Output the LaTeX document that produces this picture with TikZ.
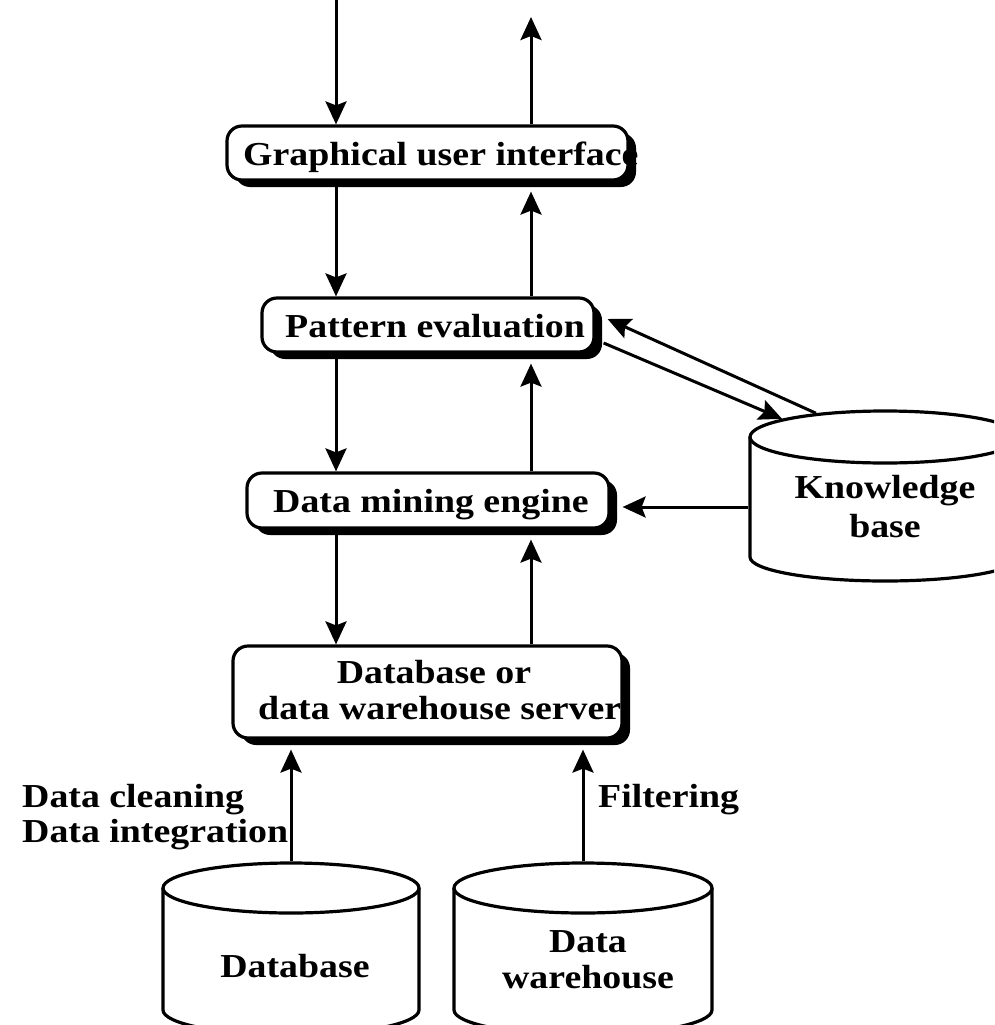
\documentclass[tikz,border=0pt]{standalone}
\usepackage{fontspec}
\setmainfont{Liberation Serif}[FakeStretch=1.13]
\usetikzlibrary{arrows.meta,shapes.geometric,shadows,calc}
\begin{document}
\begin{tikzpicture}[x=1pt,y=1pt,
  box/.style={draw, line width=3.2pt, rounded corners=15pt, fill=white, inner sep=0pt,
     drop shadow={shadow xshift=8pt, shadow yshift=-7pt, fill=black, opacity=1}},
  lbl/.style={inner sep=0pt, font=\fontsize{33.5}{36}\selectfont\bfseries},
  arr/.style={line width=3pt, -{Stealth[length=23pt,width=21pt,inset=4pt]}},
  cyl/.style={draw, line width=3.2pt, fill=white},
  cyltop/.style={ellipse, draw, line width=3.2pt, fill=white, inner sep=0pt},
]
\clip (0,0) rectangle (994,-1025);
\fill[white] (0,0) rectangle (994,-1025);

% boxes
\node[box, minimum width=401, minimum height=54] (gui) at (427.5,-153) {};
\node[box, minimum width=332, minimum height=54] (pe) at (428,-325) {};
\node[box, minimum width=362, minimum height=55] (dme) at (428,-500.5) {};
\node[box, minimum width=389, minimum height=92] (srv) at (427.5,-692) {};

\node[lbl, anchor=base west] (guit) at (243,-165) {Graphical user interface};
\node[lbl, anchor=base west] (pet) at (285,-337) {Pattern evaluation};
\node[lbl, anchor=base west] (dmet) at (273,-512) {Data mining engine};
\node[lbl, anchor=base] (srvt1) at (434,-683) {Database or};
\node[lbl, anchor=base west] (srvt2) at (258,-719) {data warehouse server};

% cylinders
\draw[cyl] (163,-888) -- (163,-1010) arc[start angle=180, end angle=360, x radius=128, y radius=25] -- (419,-888);
\node[cyltop, minimum width=256, minimum height=50] (db) at (291,-888) {};
\draw[cyl] (454,-888) -- (454,-1010) arc[start angle=180, end angle=360, x radius=129, y radius=25] -- (712,-888);
\node[cyltop, minimum width=258, minimum height=50] (dw) at (583,-888) {};
\draw[cyl] (750,-437) -- (750,-557) arc[start angle=180, end angle=360, x radius=135, y radius=24] -- (1020,-437);
\node[cyltop, minimum width=270, minimum height=52] (kb) at (885,-437) {};

\node[lbl, anchor=base] (dbt) at (295,-977) {Database};
\node[lbl, anchor=base] (dwt1) at (588,-952) {Data};
\node[lbl, anchor=base] (dwt2) at (588,-988) {warehouse};
\node[lbl, anchor=base] (kbt1) at (885,-498) {Knowledge};
\node[lbl, anchor=base] (kbt2) at (885,-537) {base};

% side labels
\node[lbl, anchor=base west] (clean) at (22,-807) {Data cleaning};
\node[lbl, anchor=base west] (integ) at (22,-842) {Data integration};
\node[lbl, anchor=base west] (filt) at (598,-807) {Filtering};

% connectors
\coordinate (in) at (336,0);
\coordinate (out) at (531,-17);
\coordinate (kbrow) at (750,-507);
\draw[arr] (in) -- (in |- gui.north);
\draw[arr] (out |- gui.north) -- (out);
\draw[arr] (in |- gui.south) -- (in |- pe.north);
\draw[arr, shorten >=10pt] (out |- pe.north) -- (out |- gui.south);
\draw[arr] (in |- pe.south) -- (in |- dme.north);
\draw[arr, shorten >=10pt] (out |- dme.north) -- (out |- pe.south);
\draw[arr] (in |- dme.south) -- (in |- srv.north);
\draw[arr, shorten >=10pt] (out |- srv.north) -- (out |- dme.south);
\draw[arr, shorten >=10pt] (db.north) -- (db.north |- srv.south);
\draw[arr, shorten >=10pt] (dw.north) -- (dw.north |- srv.south);
\draw[arr, shorten >=12pt] (kb.west |- kbrow) -- (dme.east |- kbrow);
\draw[arr] (kb.161) -- ($(pe.east)+(12,6)$);
\draw[arr] ($(pe.east)+(8,-18)$) -- (kb.170);
\end{tikzpicture}
\end{document}
